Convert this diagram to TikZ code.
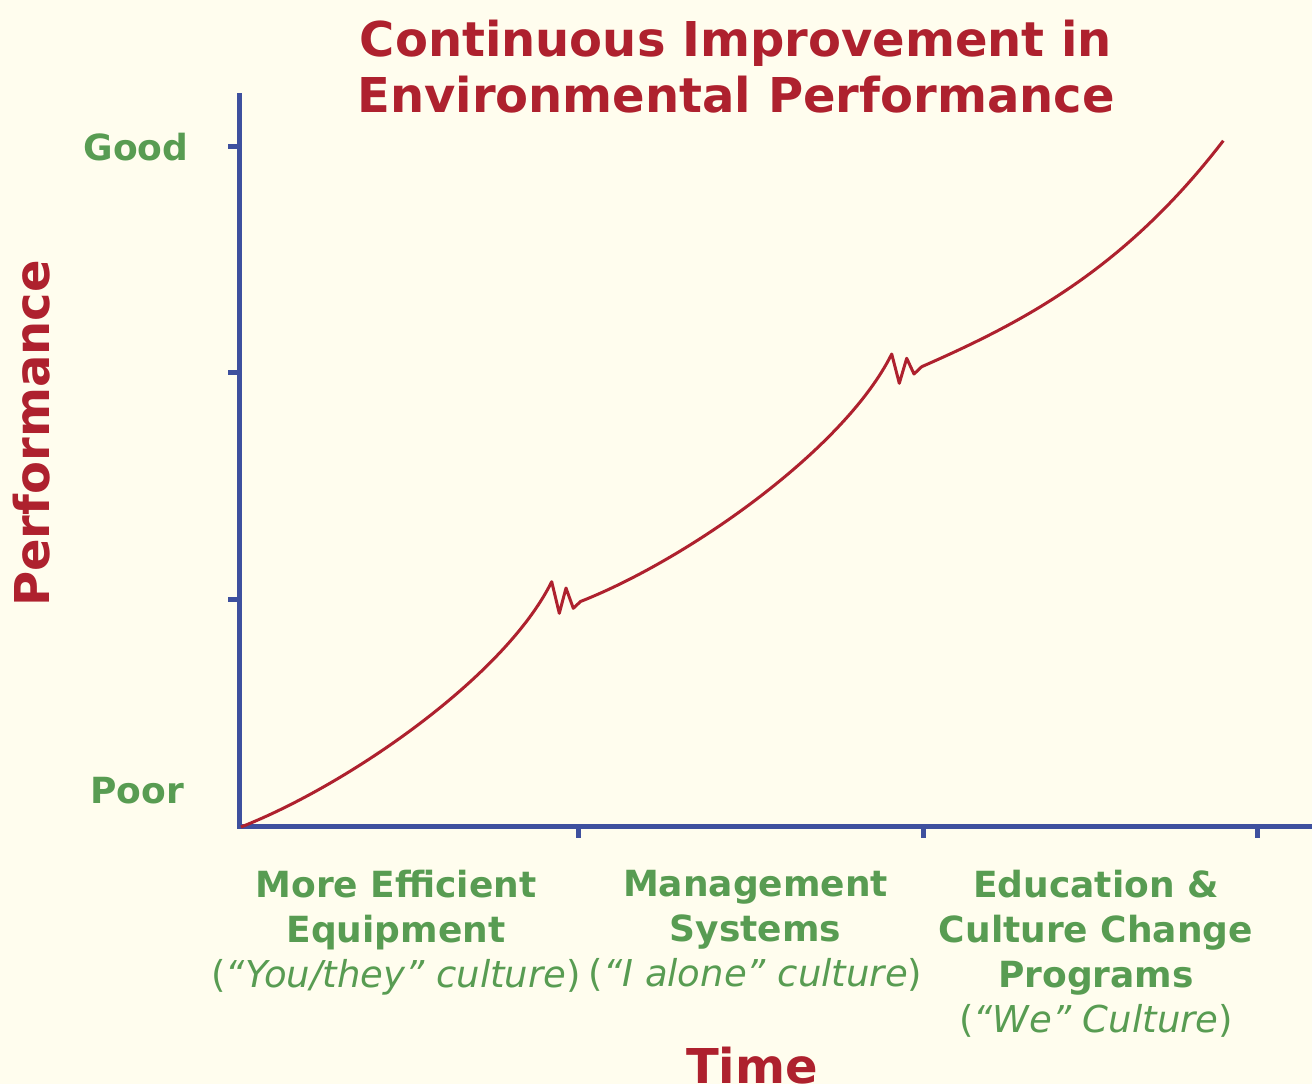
\documentclass[tikz,border=0pt]{standalone}
\usepackage{fontspec}
\setmainfont{DejaVu Sans}
\usetikzlibrary{positioning}
\definecolor{bgcream}{RGB}{255,253,238}
\definecolor{axisblue}{RGB}{62,80,158}
\definecolor{perfred}{RGB}{174,33,46}
\definecolor{labelgreen}{RGB}{88,156,82}

\begin{document}
\begin{tikzpicture}[x=1pt,y=-1pt,
  axis/.style={axisblue,line width=5pt},
  redtext/.style={perfred,inner sep=0pt,font=\bfseries\fontsize{48}{56}\selectfont},
  leveltext/.style={labelgreen,inner sep=0pt,anchor=base,font=\bfseries\fontsize{36}{45}\selectfont},
  stagetext/.style={labelgreen,inner sep=0pt,align=center,anchor=north,font=\bfseries\fontsize{36}{45}\selectfont}]
\path[use as bounding box,fill=bgcream] (0,0) rectangle (1312,1084);

% title and axis labels
\node[redtext,align=center,anchor=north] (title) at (736,20) {Continuous Improvement in\\Environmental Performance};
\node[redtext,rotate=90,anchor=base] (perf) at (49,433.5) {Performance};
\node[redtext,anchor=base] (time) at (752,1083) {Time};
\node[leveltext] (good) at (136,160) {Good};
\node[leveltext] (poor) at (137,803) {Poor};

% axes
\coordinate (ytop) at (239,93);
\coordinate (origin) at (239,826);
\coordinate (xend) at (1312,826);
\draw[axis] (ytop) -- (origin) -- (xend);
\foreach \y in {146,372,599}
  \draw[axis] (228,\y) -- (239,\y);
\foreach \x in {578,923,1257}
  \draw[axis] (\x,826) -- (\x,838);

% stages
\node[stagetext] (equip) at (396,870) {More Efficient\\Equipment\\{\mdseries\fontsize{37}{45}\selectfont(\textit{“You/they” culture})}};
\node[stagetext] (mgmt) at (755.5,870) {Management\\Systems\\{\mdseries\fontsize{37}{45}\selectfont(\textit{“I alone” culture})}};
\node[stagetext] (educ) at (1096,870) {Education \&\\Culture Change\\Programs\\{\mdseries\fontsize{37}{45}\selectfont(\textit{“We” Culture})}};

% performance curve
\draw[perfred,line width=3pt,line join=round]
  (241,827) .. controls (350,784) and (505,676) .. (551.7,581.7)
  -- (559.3,613.3) -- (566,588) -- (573.3,608.3) -- (580.5,601.5)
  .. controls (689.5,558.5) and (845,448.3) .. (891.7,354)
  -- (899.3,383.3) -- (906.7,358.3) -- (914,374) -- (921.7,366.7)
  .. controls (1021.7,322.7) and (1123.3,270.7) .. (1223.3,140.7);
\end{tikzpicture}
\end{document}
